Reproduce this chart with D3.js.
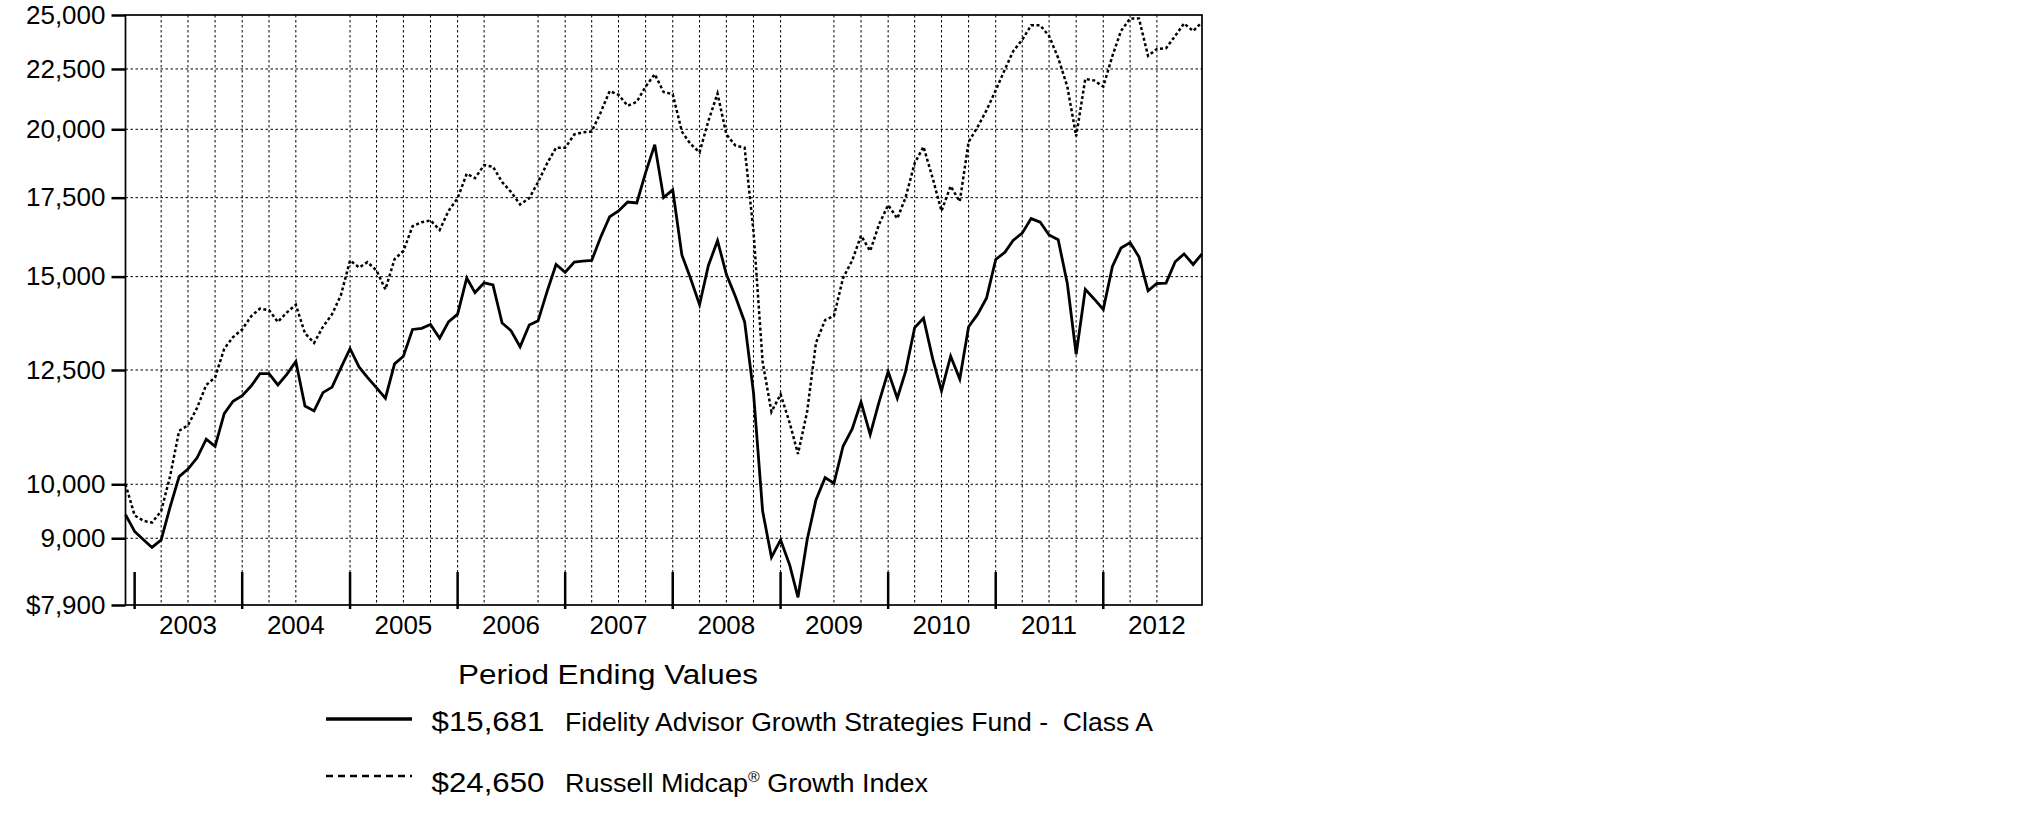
<!DOCTYPE html>
<html>
<head>
<meta charset="utf-8">
<script src="https://cdn.jsdelivr.net/npm/d3@7"></script>
<style>
body { margin: 0; background: #fff; }
svg { font-family: "Liberation Sans", Arial, sans-serif; }
.grid line { stroke: #000; stroke-width: 1; stroke-dasharray: 2.5,2.5; }
.legend text { white-space: pre; }
</style>
</head>
<body>
<script>
// monthly period-ending values, Nov 2002 .. Nov 2012
var fundValues = [
    9425, 9120, 8970, 8840, 8970, 9560, 10150, 10300, 10530, 10920, 10770, 11480,
    11760, 11890, 12120, 12410, 12410, 12140, 12400, 12710, 11650, 11540, 11960, 12090,
    12550, 13030, 12570, 12320, 12070, 11830, 12650, 12840, 13530, 13560, 13660, 13300,
    13730, 13940, 14960, 14540, 14820, 14760, 13700, 13500, 13080, 13650, 13760, 14580,
    15360, 15130, 15430, 15460, 15480, 16190, 16860, 17050, 17350, 17320, 18380, 19410,
    17500, 17770, 15650, 14960, 14200, 15330, 16090, 15070, 14420, 13730, 11960, 9490,
    8670, 8970, 8540, 8020, 8970, 9700, 10130, 10020, 10770, 11140, 11740, 11020,
    11740, 12460, 11830, 12460, 13580, 13830, 12780, 12000, 12840, 12280, 13600, 13940,
    14390, 15510, 15730, 16100, 16330, 16800, 16680, 16270, 16120, 14800, 12890, 14630,
    14360, 14070, 15300, 15860, 16030, 15590, 14590, 14800, 14810, 15440, 15680, 15360,
    15681
];

var indexValues = [
    10000, 9410, 9310, 9280, 9490, 10150, 11100, 11220, 11610, 12140, 12320, 13030,
    13330, 13530, 13890, 14090, 14050, 13730, 13990, 14200, 13430, 13180, 13600, 13940,
    14470, 15480, 15270, 15430, 15180, 14630, 15520, 15770, 16550, 16680, 16740, 16430,
    17050, 17480, 18340, 18180, 18650, 18590, 18040, 17700, 17270, 17480, 18040, 18720,
    19290, 19290, 19800, 19880, 19910, 20660, 21550, 21390, 20940, 21100, 21740, 22270,
    21510, 21420, 19910, 19440, 19120, 20330, 21450, 19800, 19370, 19290, 16390, 12700,
    11520, 11920, 11270, 10610, 11520, 13180, 13780, 13890, 14960, 15480, 16250, 15770,
    16610, 17250, 16800, 17500, 18720, 19330, 18180, 17050, 17900, 17370, 19510, 20100,
    20760, 21580, 22480, 23290, 23820, 24500, 24500, 24000, 22990, 21740, 19730, 22070,
    22000, 21740, 23080, 24230, 24830, 24830, 23080, 23400, 23430, 24000, 24590, 24230,
    24650
];

var yTickValues = [7900, 9000, 10000, 12500, 15000, 17500, 20000, 22500, 25000];
var yTickLabels = ["$7,900", "9,000", "10,000", "12,500", "15,000", "17,500", "20,000", "22,500", "25,000"];
var yearLabels = ["2003", "2004", "2005", "2006", "2007", "2008", "2009", "2010", "2011", "2012"];
// quarter lines that do not show in the original
var skippedGrid = ["2003-01", "2004-10", "2006-07", "2009-04", "2012-10"];

var legendTitle = "Period Ending Values";
var legendValues = ["$15,681", "$24,650"];
var legendNames = ["Fidelity Advisor Growth Strategies Fund -  Class A", "Russell Midcap® Growth Index"];

var width = 2025,
    height = 828;

var plotLeft = 125.5,
    plotRight = 1202,
    plotTop = 15,
    plotBottom = 605;

// each period end is placed at the first day of the next month
var periodEnds = d3.utcMonth.range(new Date(Date.UTC(2002, 11, 1)), new Date(Date.UTC(2013, 0, 1)));
var yearStarts = d3.utcYear.range(new Date(Date.UTC(2003, 0, 1)), new Date(Date.UTC(2013, 0, 1)));
var monthKey = d3.utcFormat("%Y-%m");
var quarters = d3.utcMonth.every(3)
    .range(new Date(Date.UTC(2003, 0, 1)), new Date(Date.UTC(2012, 11, 1)))
    .filter(function(d) { return skippedGrid.indexOf(monthKey(d)) < 0; });

var x = d3.scaleUtc()
    .domain(d3.extent(periodEnds))
    .range([plotLeft, plotRight]);

var y = d3.scaleLog()
    .domain([7900, 25000])
    .range([plotBottom, plotTop]);

var svg = d3.select("body")
    .append("svg")
    .attr("width", width)
    .attr("height", height);

svg.append("rect")
    .attr("width", width)
    .attr("height", height)
    .attr("fill", "#fff");

// dotted grid
var grid = svg.append("g").attr("class", "grid");

grid.selectAll("line.h")
    .data(yTickValues.slice(1, -1))
    .enter()
    .append("line")
    .attr("class", "h")
    .attr("x1", plotLeft)
    .attr("x2", plotRight)
    .attr("y1", function(d) { return y(d); })
    .attr("y2", function(d) { return y(d); });

grid.selectAll("line.v")
    .data(quarters)
    .enter()
    .append("line")
    .attr("class", "v")
    .attr("x1", function(d) { return x(d); })
    .attr("x2", function(d) { return x(d); })
    .attr("y1", plotTop)
    .attr("y2", plotBottom);

// year marks standing on the bottom axis
svg.selectAll("line.year-tick")
    .data(yearStarts)
    .enter()
    .append("line")
    .attr("class", "year-tick")
    .attr("x1", function(d) { return x(d); })
    .attr("x2", function(d) { return x(d); })
    .attr("y1", plotBottom - 33)
    .attr("y2", plotBottom + 4)
    .attr("stroke", "#000")
    .attr("stroke-width", 2.5);

svg.selectAll("text.year")
    .data(yearStarts)
    .enter()
    .append("text")
    .attr("class", "year")
    .attr("x", function(d) { return x(d3.utcMonth.offset(d, 6)); })
    .attr("y", plotBottom + 29)
    .attr("text-anchor", "middle")
    .attr("font-size", 26)
    .text(function(d, i) { return yearLabels[i]; });

// y axis
var yAxis = svg.append("g")
    .attr("transform", "translate(" + plotLeft + ",0)")
    .call(d3.axisLeft(y)
        .tickValues(yTickValues)
        .tickFormat(function(d, i) { return yTickLabels[i]; })
        .tickSize(14)
        .tickPadding(6));

yAxis.select(".domain").remove();
yAxis.attr("font-family", null).attr("font-size", 26);
yAxis.selectAll(".tick line").attr("stroke-width", 2.5);
yAxis.selectAll(".tick text").attr("fill", "#000");

// frame
svg.append("rect")
    .attr("x", plotLeft)
    .attr("y", plotTop)
    .attr("width", plotRight - plotLeft)
    .attr("height", plotBottom - plotTop)
    .attr("fill", "none")
    .attr("stroke", "#000")
    .attr("stroke-width", 1.7);

var line = d3.line()
    .x(function(d, i) { return x(periodEnds[i]); })
    .y(function(d) { return y(d); });

svg.append("path")
    .datum(indexValues)
    .attr("class", "index-line")
    .attr("d", line)
    .attr("fill", "none")
    .attr("stroke", "#000")
    .attr("stroke-width", 2.5)
    .attr("stroke-dasharray", "3,2.5");

svg.append("path")
    .datum(fundValues)
    .attr("class", "fund-line")
    .attr("d", line)
    .attr("fill", "none")
    .attr("stroke", "#000")
    .attr("stroke-width", 2.8);

// legend
var legend = svg.append("g").attr("class", "legend");

legend.append("text")
    .attr("x", 458)
    .attr("y", 683.5)
    .attr("font-size", 27)
    .attr("textLength", 300)
    .attr("lengthAdjust", "spacingAndGlyphs")
    .text(legendTitle);

var rows = [
    {y: 731, sample: 719, dash: null, width: 3.3, nameLength: 588},
    {y: 791.5, sample: 776, dash: "7,5", width: 2.4, nameLength: 363}
];

rows.forEach(function(r, i) {
    legend.append("line")
        .attr("x1", 326)
        .attr("x2", 412)
        .attr("y1", r.sample)
        .attr("y2", r.sample)
        .attr("stroke", "#000")
        .attr("stroke-width", r.width)
        .attr("stroke-dasharray", r.dash);

    legend.append("text")
        .attr("x", 431.5)
        .attr("y", r.y)
        .attr("font-size", 28)
        .attr("textLength", 113)
        .attr("lengthAdjust", "spacingAndGlyphs")
        .text(legendValues[i]);

    var name = legend.append("text")
        .attr("x", 565)
        .attr("y", r.y)
        .attr("font-size", 25.5)
        .attr("textLength", r.nameLength)
        .attr("lengthAdjust", "spacingAndGlyphs");

    var parts = legendNames[i].split("®");
    name.append("tspan").text(parts[0]);
    if (parts.length > 1) {
        name.append("tspan")
            .attr("font-size", 15)
            .attr("dy", -10)
            .text("®");
        name.append("tspan")
            .attr("dy", 10)
            .text(parts[1]);
    }
});
</script>
</body>
</html>
